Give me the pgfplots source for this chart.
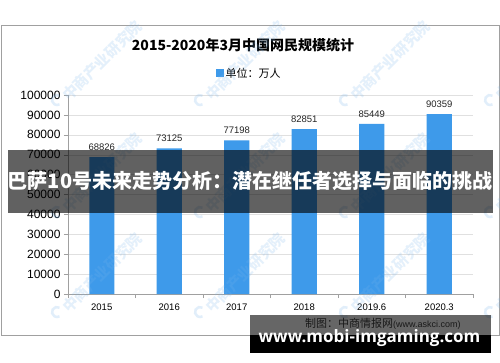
\documentclass[border=0pt]{standalone}
\usepackage{fontspec}
\setmainfont{Liberation Sans}
\newfontfamily\cjk{Noto Sans CJK SC}
\newfontfamily\ops{Open Sans}
\usepackage{pgfplots}
\pgfplotsset{compat=1.18}
\definecolor{barblue}{RGB}{62,154,234}
\definecolor{framegray}{RGB}{160,160,160}
\definecolor{wmblue}{RGB}{120,180,235}
\begin{document}
\begin{tikzpicture}[x=1pt,y=1pt]
\useasboundingbox[fill=white] (0,0) rectangle (500,362);
\draw[framegray, line width=0.8pt] (1,27) rectangle (499,337);
\node[font=\cjk\bfseries\fontsize{14}{14}\selectfont] at (243,317) {2015-2020年3月中国网民规模统计};
\begin{axis}[
  at={(68pt,68pt)}, anchor=south west,
  scale only axis, width=405pt, height=199pt,
  xmin=-0.5, xmax=5.5, ymin=0, ymax=100000,
  ybar, bar width=25pt,
  xtick={0,...,5}, xticklabels={2015,2016,2017,2018,2019.6,2020.3},
  minor xtick={-0.5,0.5,...,5.5},
  major x tick style={draw=none},
  ytick={0,10000,...,100000},
  scaled y ticks=false,
  yticklabels={0,10000,20000,30000,40000,50000,60000,70000,80000,90000,100000},
  ymajorgrids, grid style={black!12},
  axis line style={framegray},
  axis x line*=bottom, axis y line*=left,
  tick align=outside,
  tick style={framegray},
  major tick length=4pt, minor tick length=4pt,
  xticklabel style={font=\fontsize{9.5}{10}\selectfont, yshift=-2pt},
  yticklabel style={font=\fontsize{12}{12}\selectfont},
  point meta=explicit symbolic,
  nodes near coords,
  nodes near coords style={font=\fontsize{9.5}{10}\selectfont, black!85, yshift=3pt},
  legend style={at={(0.447,1.11)}, anchor=center, draw=none, fill=none,
    font=\cjk\fontsize{11}{11}\selectfont, inner sep=1pt},
  legend image code/.code={\fill[barblue] (0pt,-4pt) rectangle (8pt,4pt);},
]
\addplot[fill=barblue, draw=none] coordinates {(0,68826)[68826] (1,73125)[73125] (2,77198)[77198] (3,82851)[82851] (4,85449)[85449] (5,90359)[90359]};
\addlegendentry{单位：万人}
\end{axis}
% faint watermarks
\foreach \wx in {57,200,345,490}{
  \foreach \wy in {262,150,50}{
    \draw[wmblue, opacity=0.22, line width=2.5pt] (\wx,\wy) ++(60:5) arc (60:300:5);
    \node[wmblue, opacity=0.2, rotate=45, anchor=west, inner sep=0pt,
      font=\cjk\bfseries\fontsize{15}{15}\selectfont] at (\wx+8,\wy+2) {中商产业研究院};
  }
}
\fill[black, opacity=0.62] (8,149) rectangle (493,212);
\node[white, font=\cjk\bfseries\fontsize{20}{20}\selectfont] at (250,181) {巴萨10号未来走势分析：潜在继任者选择与面临的挑战};
\fill[black, opacity=0.6] (250,27) rectangle (491,47);
\fill[black] (250,9) rectangle (491,27);
\node[black!90, anchor=west, inner sep=0pt] at (305,38) {{\cjk\fontsize{11}{11}\selectfont 制图：中商情报网}{\fontsize{9}{9}\selectfont (www.askci.com)}};
\node[white, font=\ops\bfseries\fontsize{17}{17}\selectfont] at (369.5,24) {www.mobi-imgaming.com};
\end{tikzpicture}
\end{document}
